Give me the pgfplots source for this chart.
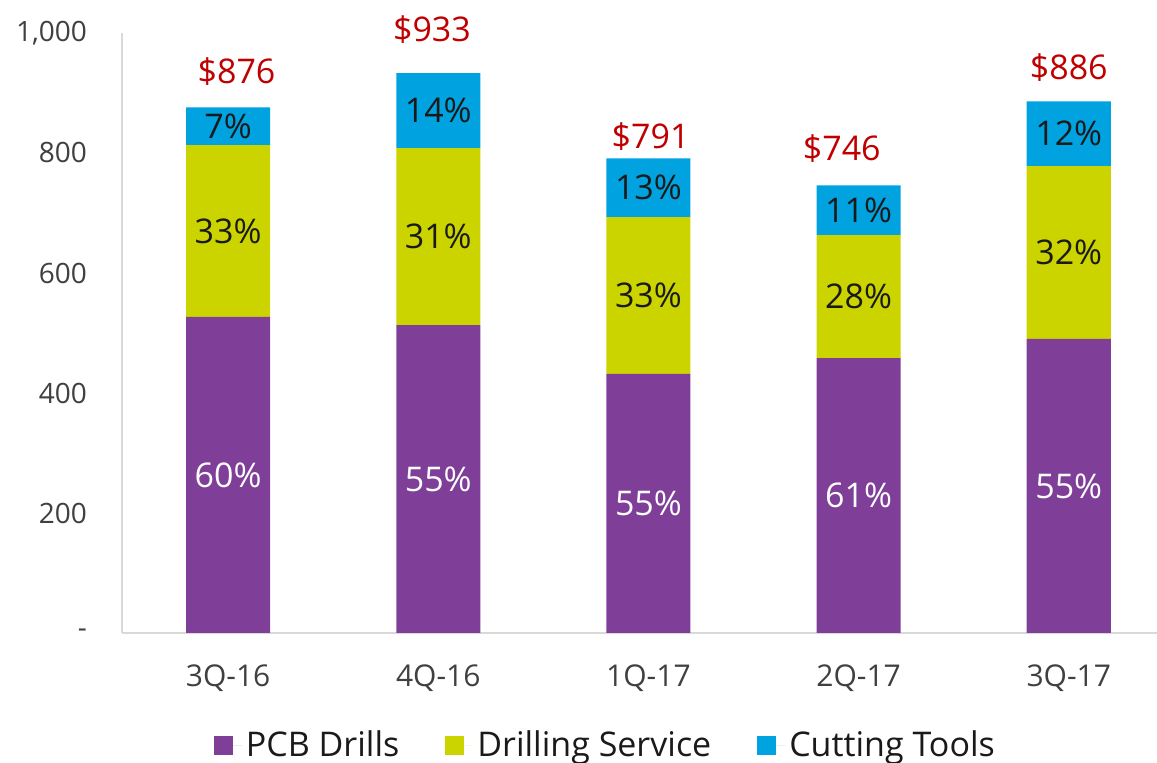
\documentclass[border=0pt]{standalone}
\usepackage{pgfplots}
\usepackage{pgfplotstable}
\pgfplotsset{compat=1.18}
\usepackage{fontspec}
\setmainfont{Open Sans}
\definecolor{pcb}{HTML}{7F3F98}
\definecolor{drill}{HTML}{CCD400}
\definecolor{cut}{HTML}{00A3E0}
\definecolor{totred}{HTML}{C00000}
\definecolor{axgray}{HTML}{D9D9D9}
\definecolor{ticktext}{HTML}{404040}
\definecolor{lbl}{HTML}{1A1A1A}
\pgfplotstableread{
x pcb drill cut
0 527 286 63
1 513 295 125
2 432 261 98
3 458 205 83
4 490 288 108
}\datatab
\tikzset{tot/.style={text=totred, font=\fontsize{17}{19}\selectfont},
  pctw/.style={text=white, font=\fontsize{17}{19}\selectfont},
  pctb/.style={text=lbl, font=\fontsize{17}{19}\selectfont}}
\begin{document}
\begin{tikzpicture}
\begin{axis}[
  scale only axis, width=517.5pt, height=300pt,
  ybar stacked, bar width=42pt,
  xmin=-0.505, xmax=4.42, ymin=0, ymax=1000,
  clip=false,
  xtick={0,1,2,3,4}, xticklabels={3Q-16,4Q-16,1Q-17,2Q-17,3Q-17},
  ytick={0,200,400,600,800,1000}, yticklabels={-,200,400,600,800,{1,000}},
  axis lines*=left,
  axis line style={draw=axgray, line width=1pt},
  major tick length=0pt,
  yticklabel style={font=\fontsize{14}{16}\selectfont, text=ticktext, xshift=-14pt},
  xticklabel style={font=\fontsize{15}{17}\selectfont, text=ticktext, yshift=-12.5pt},
  legend columns=3,
  legend style={draw=none, at={(0.468,-0.187)}, anchor=center,
    font=\fontsize{17}{19}\selectfont, text=lbl,
    /tikz/every even column/.append style={column sep=21pt}},
  legend image code/.code={\fill[#1] (0pt,-4.75pt) rectangle (9.5pt,4.75pt);
    \path (0pt,0pt) -- (14pt,0pt);},
]
\addplot[fill=pcb, draw=none] table[x=x, y=pcb] {\datatab};
\addplot[fill=drill, draw=none] table[x=x, y=drill] {\datatab};
\addplot[fill=cut, draw=none] table[x=x, y=cut] {\datatab};
\legend{PCB Drills, Drilling Service, Cutting Tools}
% anchor points at segment centres (for the percentage labels)
\coordinate (a0) at (axis cs:0,263.5);
\coordinate (b0) at (axis cs:0,670);
\coordinate (c0) at (axis cs:0,844.5);
\coordinate (a1) at (axis cs:1,256.5);
\coordinate (b1) at (axis cs:1,660.5);
\coordinate (c1) at (axis cs:1,870.5);
\coordinate (a2) at (axis cs:2,216);
\coordinate (b2) at (axis cs:2,562.5);
\coordinate (c2) at (axis cs:2,742);
\coordinate (a3) at (axis cs:3,229);
\coordinate (b3) at (axis cs:3,560.5);
\coordinate (c3) at (axis cs:3,704.5);
\coordinate (a4) at (axis cs:4,245);
\coordinate (b4) at (axis cs:4,634);
\coordinate (c4) at (axis cs:4,832);
% totals
\node[tot] at (axis cs:0.04,935) {\$876};
\node[tot] at (axis cs:0.97,1005) {\$933};
\node[tot] at (axis cs:2.01,828) {\$791};
\node[tot] at (axis cs:2.92,808) {\$746};
\node[tot] at (axis cs:4,943) {\$886};
\coordinate (ll) at (rel axis cs:0,0);
\coordinate (ur) at (rel axis cs:1,1);
\end{axis}
\node[pctw] at (a0) {60\%};
\node[pctb] at (b0) {33\%};
\node[pctb] at (c0) {7\%};
\node[pctw] at (a1) {55\%};
\node[pctb] at (b1) {31\%};
\node[pctb] at (c1) {14\%};
\node[pctw] at (a2) {55\%};
\node[pctb] at (b2) {33\%};
\node[pctb] at (c2) {13\%};
\node[pctw] at (a3) {61\%};
\node[pctb] at (b3) {28\%};
\node[pctb] at (c3) {11\%};
\node[pctw] at (a4) {55\%};
\node[pctb] at (b4) {32\%};
\node[pctb] at (c4) {12\%};
\pgfresetboundingbox
\path[use as bounding box] ([xshift=-61pt,yshift=-65pt]ll) rectangle ([yshift=16.5pt]ur);
\end{tikzpicture}
\end{document}
